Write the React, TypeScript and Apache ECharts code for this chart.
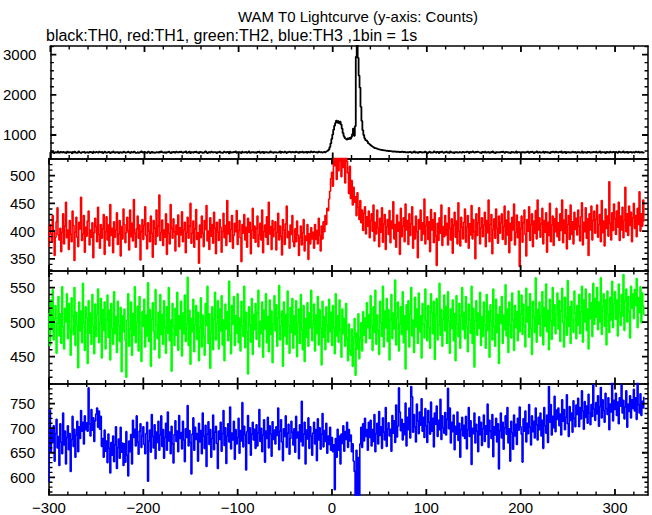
import React, { useEffect, useRef } from "react";
import * as echarts from "echarts";

const T_START = -300;

const TITLE = "WAM T0 Lightcurve (y-axis: Counts)";
const SUBTITLE = "black:TH0, red:TH1, green:TH2, blue:TH3 ,1bin = 1s";

// TH0 (black) counts per 1 s bin, t = -300 .. 331
const th0 = [
  548,571,560,583,552,566,574,559,590,562,547,578,569,555,581,563,572,549,586,570,
  558,575,567,544,579,561,584,570,553,566,589,572,560,548,575,563,582,557,569,576,
  562,551,580,568,573,547,586,565,559,577,566,554,583,571,560,579,552,568,585,563,
  570,557,581,564,549,576,568,592,561,555,574,566,583,550,572,563,578,559,587,568,
  556,573,565,584,560,548,577,569,562,588,571,553,566,580,558,575,564,591,567,552,
  579,563,570,556,585,572,549,566,581,560,574,557,569,583,565,551,578,562,590,571,
  558,567,582,553,575,564,588,569,547,573,561,580,566,555,584,570,559,577,563,586,
  565,550,574,568,589,557,571,562,583,548,576,566,555,580,569,587,560,573,552,578,
  567,582,556,571,563,590,574,551,568,579,562,585,570,557,576,564,581,549,572,566,
  584,561,575,553,569,588,566,558,577,571,546,583,564,572,559,580,567,592,556,574,
  563,578,569,552,586,565,574,560,581,557,570,589,564,548,576,568,583,561,573,555,
  579,566,587,558,572,563,580,551,575,569,584,562,571,556,590,567,578,553,574,565,
  581,560,572,566,589,555,577,568,562,583,571,549,576,564,586,570,557,579,567,574,
  561,585,569,576,553,580,566,572,588,559,574,567,582,556,578,570,563,591,575,568,
  584,572,566,579,561,587,574,569,581,563,576,590,571,585,596,610,640,700,790,900,
  1010,1130,1230,1300,1360,1310,1345,1290,1330,1260,1160,1050,970,925,905,885,915,895,925,905,
  950,1020,1160,980,1220,2950,3300,2920,2480,2180,1700,1350,1120,1000,920,870,860,835,790,775,
  760,735,715,700,690,672,668,655,650,641,636,630,624,628,615,619,610,606,612,598,
  603,596,600,589,594,585,590,583,588,578,584,575,580,572,586,569,577,581,566,574,
  562,579,571,584,558,573,566,589,561,575,568,553,580,570,587,564,572,559,583,567,
  576,552,569,585,563,578,560,574,591,566,557,581,570,549,577,564,586,572,558,575,
  568,583,561,574,556,589,570,563,578,552,575,567,584,560,571,587,565,554,579,569,
  557,576,566,585,572,550,580,563,574,591,568,556,577,564,583,571,560,575,548,582,
  570,563,586,559,574,568,581,555,573,566,589,561,577,552,570,584,567,575,558,579,
  564,587,571,556,578,566,583,560,574,549,577,569,585,562,572,590,558,576,565,581,
  553,574,568,582,560,577,565,588,571,556,579,563,584,570,551,575,567,589,562,573,
  580,559,571,566,586,554,577,569,582,561,575,547,578,565,587,570,558,583,566,574,
  561,578,569,592,557,573,566,581,552,576,568,585,563,572,559,588,571,564,579,555,
  575,567,583,560,571,589,556,574,565,580,553,577,569,586,562,575,558,581,570,566,
  584,561,573,567,590,558,576,563,579,571,550,582,568,575,560,587,569,557,578,572,
  565,582,570,556,585,573,561,577,568,589,559,574,566,580,554,576,571,587,563,578,
  569,557,583,572,564,586,560,575,568,581,559,573,
];

// TH1 (red)
const th1 = [
  371,412,395,380,428,401,356,389,417,442,393,384,405,363,398,431,377,409,452,388,
  402,367,419,394,381,436,410,347,398,425,389,372,416,404,461,383,395,428,362,407,
  391,418,436,375,402,389,415,352,397,423,408,381,443,394,369,412,387,404,430,358,
  399,426,384,411,373,448,392,405,361,417,389,402,433,376,395,419,355,408,386,440,
  412,379,397,425,401,366,438,390,414,382,457,396,371,404,427,387,411,348,399,421,
  385,410,444,392,368,415,400,381,427,396,353,419,405,376,438,391,409,465,383,397,
  420,374,402,389,431,358,413,396,377,448,405,387,422,399,364,411,394,429,372,406,
  393,435,381,402,416,361,398,425,387,409,450,378,396,418,371,404,439,385,397,342,
  411,388,427,396,372,419,403,446,382,400,367,424,391,412,378,434,405,359,416,398,
  383,421,407,362,399,432,388,410,374,455,395,417,381,403,428,369,392,414,399,437,
  376,401,419,388,345,412,396,430,384,407,371,423,398,416,359,402,441,387,409,380,
  405,427,372,393,414,384,438,361,399,411,389,426,376,452,395,408,367,419,390,403,
  417,366,398,432,384,409,391,357,421,402,376,413,445,388,399,369,411,394,428,381,
  372,404,381,418,393,356,388,409,375,397,421,364,391,383,412,349,395,377,406,386,
  398,369,412,385,401,377,423,392,364,409,386,417,399,428,412,441,437,458,472,495,
  506,481,539,518,551,493,544,509,563,527,498,548,515,556,487,541,526,505,468,517,
  459,491,447,479,452,462,428,469,443,421,455,415,438,401,432,444,395,426,409,436,
  388,419,431,400,447,382,416,395,438,406,372,423,398,442,380,413,430,367,408,421,
  394,437,379,418,405,453,386,412,371,429,400,416,358,441,390,409,424,381,449,402,
  419,376,431,392,413,444,369,408,386,427,399,352,421,404,438,383,415,395,458,377,
  410,426,385,417,363,439,402,421,379,433,391,338,414,383,424,396,447,374,408,390,
  428,393,414,375,442,405,384,422,360,411,434,389,418,377,451,400,373,425,407,386,
  416,440,380,407,428,369,413,393,446,386,421,399,350,431,392,415,442,377,406,424,
  390,411,434,372,419,397,456,381,412,430,359,403,422,387,440,405,378,427,396,415,
  431,385,408,445,376,420,393,436,361,414,383,425,402,449,375,398,429,388,417,336,
  405,427,380,415,438,394,355,421,400,444,383,412,431,372,418,396,437,386,456,402,
  424,389,413,441,377,419,398,433,362,416,392,450,381,411,427,374,422,399,441,390,
  415,383,431,401,456,379,420,396,439,368,412,428,385,447,394,417,377,434,403,423,
  393,438,409,382,426,451,375,416,399,442,387,422,356,431,402,445,384,419,436,396,
  421,447,389,412,430,381,455,397,418,373,440,405,427,391,489,414,384,433,401,449,
  422,394,436,407,452,383,427,402,443,388,419,479,399,431,392,445,410,434,381,424,
  450,405,428,390,441,412,471,400,431,409,456,417,
];

// TH2 (green)
const th2 = [
  513,466,532,489,547,474,505,524,455,498,537,480,512,469,551,493,461,520,500,541,
  476,527,490,452,535,509,482,550,466,514,495,434,529,487,516,470,556,498,459,522,
  506,440,531,484,513,468,540,495,454,526,479,511,548,470,499,534,448,518,488,529,
  461,503,539,478,517,445,527,491,468,544,483,508,456,530,495,472,521,428,509,486,
  519,474,420,503,541,465,490,529,452,512,481,551,470,500,523,458,537,485,443,515,
  494,533,464,510,480,557,472,518,436,504,528,487,460,547,496,476,514,448,540,482,
  511,468,531,492,455,522,484,550,473,503,429,527,495,466,520,481,543,459,509,490,
  530,451,513,483,539,472,497,565,466,517,439,505,486,533,457,496,524,475,514,444,
  492,535,464,510,479,452,527,495,552,469,512,433,485,522,460,504,543,474,498,531,
  461,519,487,538,467,503,444,526,490,515,473,559,481,454,524,497,537,466,509,484,
  541,470,506,458,530,494,479,552,463,514,486,425,522,496,471,534,453,511,489,527,
  475,513,546,464,501,483,529,449,517,490,541,470,508,457,532,482,516,441,497,538,
  487,525,465,506,553,474,494,516,436,529,480,511,468,545,495,455,521,485,534,462,
  509,482,531,450,498,519,469,540,489,460,524,443,505,478,528,465,513,492,546,473,
  497,526,458,510,483,537,467,518,491,438,530,478,508,460,522,496,471,533,486,514,
  466,524,492,454,541,480,509,471,532,489,449,519,483,505,465,527,476,444,497,459,
  452,490,436,478,505,423,484,461,512,447,476,499,458,515,481,506,470,528,492,511,
  476,538,495,459,522,485,546,468,510,488,453,530,499,479,552,464,516,492,534,472,
  518,445,503,540,476,513,490,561,467,506,529,458,497,522,482,544,470,509,432,525,
  489,531,464,512,550,480,503,456,536,493,519,469,542,486,509,448,527,497,477,548,
  502,473,524,492,462,541,514,483,530,446,510,534,474,496,556,481,518,465,504,539,
  487,523,469,544,501,455,519,491,532,473,512,444,538,497,479,527,462,509,550,489,
  514,476,537,494,457,526,503,484,552,469,520,435,502,531,481,513,491,543,466,508,
  479,529,496,462,540,488,516,449,525,501,474,548,494,465,533,485,511,440,522,498,
  537,469,510,489,554,480,519,456,529,496,477,542,503,459,524,492,515,473,545,486,
  512,539,482,526,495,464,549,500,522,478,541,491,453,530,507,485,564,471,518,497,
  529,480,509,544,467,521,494,555,486,517,460,533,502,475,550,495,525,483,511,542,
  490,531,472,516,549,499,464,536,507,481,560,494,522,469,530,503,485,545,513,476,
  524,495,540,483,515,552,471,532,500,548,488,519,461,541,505,528,479,556,497,534,
  507,550,489,529,500,564,482,522,541,494,532,467,545,511,485,536,503,559,492,527,
  544,504,532,480,555,513,495,540,509,569,488,531,548,500,537,516,477,552,520,541,
  505,547,524,563,492,535,514,551,499,542,523,510,
];

// TH3 (blue)
const th3 = [
  590,737,652,698,671,705,633,689,718,660,683,624,709,672,648,731,666,694,627,681,
  705,656,689,612,677,724,663,698,641,686,714,652,703,679,736,694,712,668,725,697,
  711,694,782,709,684,738,696,721,673,715,729,741,702,735,698,724,663,679,641,696,
  653,674,630,688,659,609,671,645,684,632,666,703,618,660,678,639,702,651,670,624,
  668,631,693,645,603,674,652,687,627,716,681,698,664,725,672,647,694,709,661,684,
  703,667,648,689,712,592,674,696,651,728,683,660,707,638,692,671,714,655,686,725,
  663,697,639,681,710,655,733,674,692,648,704,668,629,687,715,673,694,652,726,679,
  691,658,714,676,632,699,681,746,664,695,671,607,688,721,655,702,677,689,633,710,
  672,695,648,731,684,659,706,622,688,713,667,697,641,679,727,656,692,704,669,618,
  694,677,712,653,689,736,665,701,628,684,709,672,743,658,690,676,714,637,697,668,
  681,720,649,695,674,752,662,704,687,615,693,726,669,701,645,688,712,676,698,659,
  707,664,691,738,673,700,652,686,717,631,694,679,722,660,705,688,643,713,677,696,
  668,703,685,741,656,694,717,672,634,699,683,725,661,690,708,647,679,714,692,666,
  699,651,724,680,692,638,707,673,755,664,688,712,627,696,678,721,659,703,684,645,
  690,712,668,697,634,719,676,701,657,688,730,662,695,673,710,649,684,667,702,655,
  681,652,666,575,679,641,698,655,684,627,688,669,705,653,693,677,712,661,697,674,
  686,652,668,633,612,560,655,558,640,562,668,702,661,709,674,720,683,697,655,712,
  681,716,664,697,673,728,652,689,710,668,734,685,703,659,721,692,676,742,663,699,
  711,684,698,653,726,690,715,671,747,682,704,782,733,695,718,676,709,687,751,664,
  722,697,741,680,785,764,692,728,703,672,749,715,689,733,706,760,694,722,681,740,
  705,671,736,712,688,753,694,720,662,731,708,745,683,716,697,759,677,725,701,690,
  732,686,718,781,699,741,670,712,693,727,656,704,688,733,675,710,641,697,722,684,
  706,679,724,658,697,742,683,715,626,700,689,731,670,708,694,652,723,687,712,665,
  699,727,673,705,688,749,661,716,694,679,728,642,703,686,720,672,709,617,695,731,
  680,712,657,701,725,688,742,670,699,633,714,691,657,727,684,708,667,720,696,743,
  703,688,631,719,694,735,672,710,689,748,702,666,725,693,714,680,741,707,676,722,
  697,731,684,716,659,742,705,690,727,671,785,712,748,686,724,701,765,693,737,718,
  741,705,729,686,758,714,738,697,722,768,709,683,744,716,731,692,756,720,703,747,
  728,761,703,742,719,776,735,698,754,722,745,710,769,731,707,748,724,789,739,716,
  752,729,766,704,744,783,721,758,736,712,771,740,728,762,697,749,733,795,715,757,
  738,771,726,753,709,762,745,788,731,757,719,743,776,702,749,734,766,721,758,740,
  779,735,762,718,795,748,731,770,726,755,741,764,
];

// Tick values (major / minor) for the time axis and each panel's count axis
const X_MAJOR_TICKS = [-300, -200, -100, 0, 100, 200, 300];
const X_MINOR_TICKS = [
  -280, -260, -240, -220, -180, -160, -140, -120, -80, -60, -40, -20,
  20, 40, 60, 80, 120, 140, 160, 180, 220, 240, 260, 280, 320,
];
const Y_MAJOR_TICKS = [
  [1000, 2000, 3000],
  [350, 400, 450, 500],
  [450, 500, 550],
  [600, 650, 700, 750],
];
const Y_MINOR_TICKS = [
  [600, 800, 1200, 1400, 1600, 1800, 2200, 2400, 2600, 2800, 3200],
  [330, 340, 360, 370, 380, 390, 410, 420, 430, 440, 460, 470, 480, 490, 510, 520, 530],
  [420, 430, 440, 460, 470, 480, 490, 510, 520, 530, 540, 560, 570],
  [570, 580, 590, 610, 620, 630, 640, 660, 670, 680, 690, 710, 720, 730, 740, 760, 770, 780, 790],
];

const SERIES_VALUES = [th0, th1, th2, th3];
const COLORS = ["#000000", "#ff0000", "#00ff00", "#0000ff"];
const Y_MIN = [415, 328, 411, 564];
const Y_MAX = [3215, 531, 574, 791];
const Y_STEP = [1000, 50, 50, 50];
const X_MIN = -300;
const X_MAX = 335;
const X_STEP = 100;

const FONT = '"Liberation Sans", Arial, Helvetica, sans-serif';

const GRID_LEFT = 49;
const GRID_RIGHT = 4;
const CHART_W = 652;
const PANEL_TOPS = [46, 158.5, 271, 383.5];
const PANEL_H = 112.5;

export default function App() {
  const ref = useRef<HTMLDivElement>(null);

  useEffect(() => {
    if (!ref.current) return;
    const chart = echarts.init(ref.current, undefined, { renderer: "svg" });

    const grids: any[] = [];
    const xAxes: any[] = [];
    const yAxes: any[] = [];
    const series: any[] = [];

    const plotW = CHART_W - GRID_LEFT - GRID_RIGHT;
    const mkFrame = () => ({ show: true, onZero: false, lineStyle: { color: "#000000", width: 1.5 } });

    SERIES_VALUES.forEach((vals, i) => {
      grids.push({ left: GRID_LEFT, right: GRID_RIGHT, top: PANEL_TOPS[i], height: PANEL_H });
      const xBase = () => ({
        type: "value",
        gridIndex: i,
        min: X_MIN,
        max: X_MAX,
        minInterval: X_STEP,
        maxInterval: X_STEP,
        splitLine: { show: false },
        axisLine: mkFrame(),
        axisTick: { show: false },
        minorTick: { show: false },
      });
      xAxes.push({
        ...xBase(),
        position: "bottom",
        axisLabel: {
          show: i === 3,
          color: "#000",
          fontSize: 15,
          fontFamily: FONT,
          margin: 5,
          formatter: (v: number) => (v % X_STEP === 0 ? String(v).replace("-", "\u2212") : ""),
        },
      });
      xAxes.push({ ...xBase(), position: "top", axisLabel: { show: false } });

      const step = Y_STEP[i];
      const yBase = () => ({
        type: "value",
        gridIndex: i,
        min: Y_MIN[i],
        max: Y_MAX[i],
        minInterval: step,
        maxInterval: step,
        splitLine: { show: false },
        axisLine: mkFrame(),
        axisTick: { show: false },
        minorTick: { show: false },
      });
      yAxes.push({
        ...yBase(),
        position: "left",
        axisLabel: {
          show: true,
          color: "#000",
          fontSize: 15,
          fontFamily: FONT,
          margin: 14,
          formatter: (v: number) => (v % step === 0 ? String(v) : ""),
        },
      });
      yAxes.push({ ...yBase(), position: "right", axisLabel: { show: false } });

      series.push({
        type: "line",
        xAxisIndex: 2 * i,
        yAxisIndex: 2 * i,
        data: vals.map((v, k) => [T_START + k, v]),
        showSymbol: false,
        symbol: "none",
        step: "middle",
        clip: true,
        silent: true,
        z: 1,
        lineStyle: { color: COLORS[i], width: i === 0 ? 1.8 : 1.6 },
      });

      // Frame ticks drawn as broken line segments, on all four sides, through the axes' scales
      const yMin = Y_MIN[i];
      const yMax = Y_MAX[i];
      const yPerPx = (yMax - yMin) / PANEL_H;
      const xPerPx = (X_MAX - X_MIN) / plotW;
      const GAP: any = ["-", "-"];
      const buildTicks = (majorLen: number, minorLen: number, majors: boolean) => {
        const pts: any[] = [];
        const xs = majors ? X_MAJOR_TICKS : X_MINOR_TICKS;
        const ys = majors ? Y_MAJOR_TICKS[i] : Y_MINOR_TICKS[i];
        const len = majors ? majorLen : minorLen;
        xs.forEach((v) => {
          pts.push([v, yMin], [v, yMin + len * yPerPx], GAP);
          pts.push([v, yMax], [v, yMax - len * yPerPx], GAP);
        });
        ys.forEach((v) => {
          pts.push([X_MIN, v], [X_MIN + len * xPerPx, v], GAP);
          pts.push([X_MAX, v], [X_MAX - len * xPerPx, v], GAP);
        });
        return pts;
      };
      [true, false].forEach((majors) => {
        series.push({
          type: "line",
          xAxisIndex: 2 * i,
          yAxisIndex: 2 * i,
          data: buildTicks(6, 3.5, majors),
          showSymbol: false,
          symbol: "none",
          connectNulls: false,
          clip: false,
          silent: true,
          z: 10,
          lineStyle: { color: "#000000", width: majors ? 1.8 : 1.4 },
        });
      });
    });

    chart.setOption({
      animation: false,
      backgroundColor: "#ffffff",
      title: [
        {
          text: TITLE,
          left: 238,
          top: 9,
          padding: 0,
          textStyle: { fontSize: 15, fontWeight: "normal", color: "#000", fontFamily: FONT },
        },
        {
          text: SUBTITLE,
          left: 46,
          top: 27,
          padding: 0,
          textStyle: { fontSize: 16, fontWeight: "normal", color: "#000", fontFamily: FONT },
        },
      ],
      grid: grids,
      xAxis: xAxes,
      yAxis: yAxes,
      series,
    });

    return () => chart.dispose();
  }, []);

  return (
    <div
      ref={ref}
      style={{ position: "absolute", left: 0, top: 0, width: 652, height: 515, background: "#fff" }}
    />
  );
}
